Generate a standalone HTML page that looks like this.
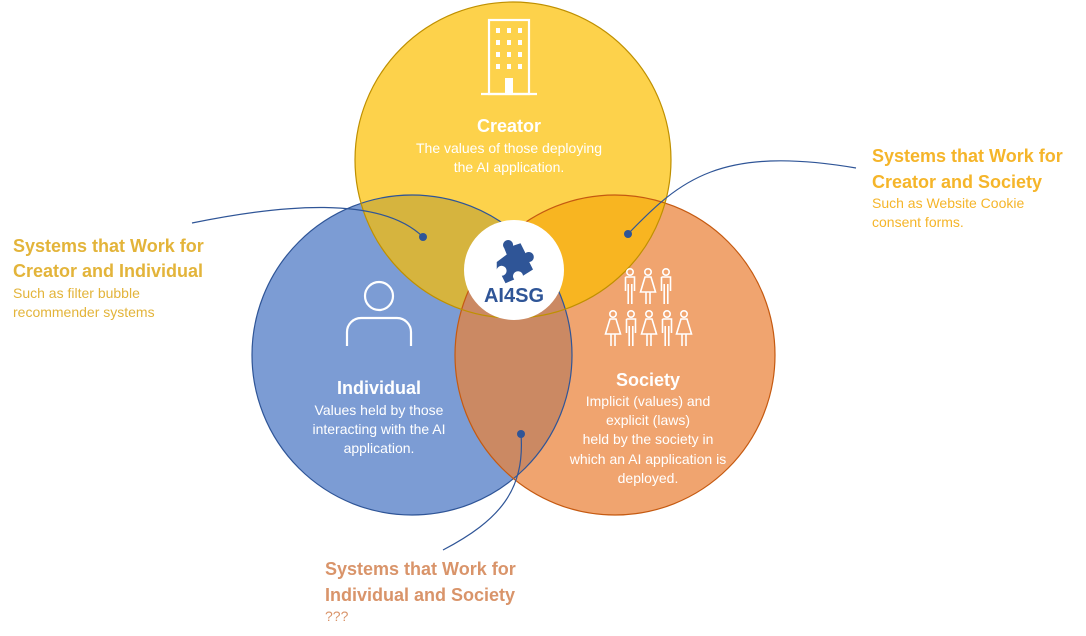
<!DOCTYPE html>
<html><head><meta charset="utf-8"><style>
body{margin:0;background:#fff;width:1086px;height:636px;overflow:hidden;font-family:"Liberation Sans",sans-serif}
svg{position:absolute;left:0;top:0}
</style></head><body>
<svg width="1086" height="636" viewBox="0 0 1086 636" font-family="Liberation Sans, sans-serif">
<defs>
<clipPath id="cC"><circle cx="513" cy="160" r="158"/></clipPath>
<clipPath id="cI"><circle cx="412" cy="355" r="160"/></clipPath>
<clipPath id="cS"><circle cx="615" cy="355" r="160"/></clipPath>
<g id="man" fill="none" stroke="#fff" stroke-width="1.6"><circle cx="0" cy="-14" r="3.2"/><path d="M-4.5,-9 h9 v14 M-4.5,-9 v14 M-1.8,-2 v20 M1.8,-2 v20"/></g>
<g id="woman" fill="none" stroke="#fff" stroke-width="1.6"><circle cx="0" cy="-14" r="3.2"/><path d="M-3,-9 h6 l4.5,15 h-15 z M-2,6 v12 M2,6 v12"/></g>
</defs>
<circle cx="412" cy="355" r="160" fill="#7C9CD4"/>
<circle cx="615" cy="355" r="160" fill="#F0A46F"/>
<circle cx="513" cy="160" r="158" fill="#FDD24B"/>
<g clip-path="url(#cC)"><circle cx="412" cy="355" r="160" fill="#D6B43E"/><circle cx="615" cy="355" r="160" fill="#F8B521"/></g>
<g clip-path="url(#cI)"><circle cx="615" cy="355" r="160" fill="#CB8963"/></g>
<circle cx="412" cy="355" r="160" fill="none" stroke="#2F5597" stroke-width="1.2"/>
<circle cx="615" cy="355" r="160" fill="none" stroke="#C55A11" stroke-width="1.2"/>
<circle cx="513" cy="160" r="158" fill="none" stroke="#BF9000" stroke-width="1.2"/>
<circle cx="514" cy="270" r="50" fill="#fff"/>
<text x="514" y="302" text-anchor="middle" font-size="20" font-weight="bold" fill="#2F5597">AI4SG</text>
<g transform="translate(513,262) scale(1.25) translate(-513,-252)">
<path d="M500,252 l8,-6 l-2,-5 a4,4 0 1 1 7,-2 l6,-2 l4,8 a4,4 0 1 1 3,7 l3,6 l-8,5 a4,4 0 1 0 -7,3 l-7,3 l-3,-6 a4,4 0 1 0 -4,-5 z" fill="#2F5597"/></g>
<g fill="none" stroke="#fff" stroke-width="2.2"><rect x="489" y="20" width="40" height="74"/><path d="M481,94 h56"/></g>
<g fill="#fff"><rect x="496" y="28" width="4" height="5"/><rect x="507" y="28" width="4" height="5"/><rect x="518" y="28" width="4" height="5"/>
<rect x="496" y="40" width="4" height="5"/><rect x="507" y="40" width="4" height="5"/><rect x="518" y="40" width="4" height="5"/>
<rect x="496" y="52" width="4" height="5"/><rect x="507" y="52" width="4" height="5"/><rect x="518" y="52" width="4" height="5"/>
<rect x="496" y="64" width="4" height="5"/><rect x="507" y="64" width="4" height="5"/><rect x="518" y="64" width="4" height="5"/>
<rect x="505" y="78" width="8" height="16"/></g>
<g fill="none" stroke="#fff" stroke-width="2.2"><circle cx="379" cy="296" r="14"/><path d="M347,346 v-14 a14,14 0 0 1 14,-14 h36 a14,14 0 0 1 14,14 v14"/></g>
<use href="#man" x="630" y="286"/><use href="#woman" x="648" y="286"/><use href="#man" x="666" y="286"/>
<use href="#woman" x="613" y="328"/><use href="#man" x="631" y="328"/><use href="#woman" x="649" y="328"/><use href="#man" x="667" y="328"/><use href="#woman" x="684" y="328"/>
<g fill="#fff" text-anchor="middle">
<text x="509" y="132" font-size="18" font-weight="bold">Creator</text>
<text x="509" y="153" font-size="14">The values of those deploying</text>
<text x="509" y="172" font-size="14">the AI application.</text>
<text x="379" y="394" font-size="18" font-weight="bold">Individual</text>
<text x="379" y="415" font-size="14">Values held by those</text>
<text x="379" y="434" font-size="14">interacting with the AI</text>
<text x="379" y="453" font-size="14">application.</text>
<text x="648" y="386" font-size="18" font-weight="bold">Society</text>
<text x="648" y="406" font-size="14">Implicit (values) and</text>
<text x="648" y="425" font-size="14">explicit (laws)</text>
<text x="648" y="444" font-size="14">held by the society in</text>
<text x="648" y="464" font-size="14">which an AI application is</text>
<text x="648" y="483" font-size="14">deployed.</text>
</g>
<g fill="none" stroke="#2F5597" stroke-width="1.2">
<path d="M192,223 C280,205 380,195 423,237"/>
<path d="M628,234 C680,180 720,145 856,168"/>
<path d="M521,434 C525,490 500,520 443,550"/>
</g>
<g fill="#2F5597"><circle cx="423" cy="237" r="4"/><circle cx="628" cy="234" r="4"/><circle cx="521" cy="434" r="4"/></g>
<g font-weight="bold" font-size="18">
<text x="13" y="252" fill="#E3B43A">Systems that Work for</text>
<text x="13" y="277" fill="#E3B43A">Creator and Individual</text>
<text x="872" y="162" fill="#F5B52A">Systems that Work for</text>
<text x="872" y="188" fill="#F5B52A">Creator and Society</text>
<text x="325" y="575" fill="#D9946A">Systems that Work for</text>
<text x="325" y="601" fill="#D9946A">Individual and Society</text>
</g>
<g font-size="14">
<text x="13" y="298" fill="#E3B43A">Such as filter bubble</text>
<text x="13" y="317" fill="#E3B43A">recommender systems</text>
<text x="872" y="208" fill="#F5B52A">Such as Website Cookie</text>
<text x="872" y="227" fill="#F5B52A">consent forms.</text>
<text x="325" y="621" fill="#D9946A">???</text>
</g>
</svg>
</body></html>
